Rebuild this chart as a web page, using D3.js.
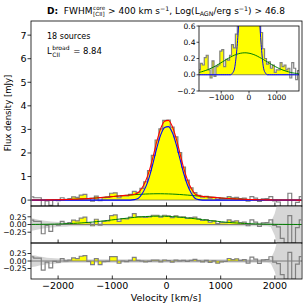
<!DOCTYPE html>
<html><head><meta charset="utf-8">
<script src="https://cdn.jsdelivr.net/npm/d3@7"></script>
<style>body{margin:0;background:#fff}svg{display:block}text{font-family:"DejaVu Sans",sans-serif;fill:#000}</style>
</head><body><div id="chart"></div>
<script>
// ---------------- data ----------------
const velocity = [-2485,-2415,-2345,-2275,-2205,-2135,-2065,-1995,-1925,-1855,
  -1785,-1715,-1645,-1575,-1505,-1435,-1365,-1295,-1225,-1155,
  -1085,-1015,-945,-875,-805,-735,-665,-595,-525,-455,
  -385,-315,-245,-175,-105,-35,35,105,175,245,
  315,385,455,525,595,665,735,805,875,945,
  1015,1085,1155,1225,1295,1365,1435,1505,1575,1645,
  1715,1785,1855,1925,1995,2065,2135,2205,2275,2345,
  2415,2485];
const flux = [0.14,0.10,0.10,-0.30,-0.03,-0.22,0.00,-0.02,0.10,0.03,
  0.06,0.14,0.12,0.21,0.24,0.06,-0.04,0.17,-0.02,0.10,
  0.12,0.29,0.31,0.10,0.19,0.18,0.24,0.37,0.33,0.50,
  0.78,1.25,1.90,2.55,3.02,3.38,3.40,3.10,2.68,2.02,
  1.40,0.85,0.52,0.32,0.20,0.13,0.16,0.08,0.12,0.03,
  0.06,0.06,0.15,0.10,0.12,0.06,0.08,-0.04,0.15,0.08,
  -0.06,0.05,0.06,0.15,-0.03,-0.08,-0.45,-0.60,0.29,-0.60,
  -0.10,0.15];
const coreModel = [0,0,0,0,0,0,0,0,0,0,
  0,0,0,0,0,0,0,0,0,0,
  0,0,0,0,0,0,0,0.02,0.07,0.25,
  0.55,1.00,1.60,2.25,2.78,3.08,3.12,2.88,2.40,1.78,
  1.15,0.65,0.30,0.08,0.02,0,0,0,0,0,
  0,0,0,0,0,0,0,0,0,0,
  0,0,0,0,0,0,0,0,0,0,
  0,0];
const broadModel = [0.003,0.004,0.005,0.007,0.008,0.011,0.013,0.017,0.020,0.025,
  0.030,0.036,0.043,0.051,0.060,0.070,0.080,0.092,0.104,0.118,
  0.132,0.146,0.161,0.175,0.190,0.204,0.217,0.230,0.241,0.250,
  0.258,0.264,0.268,0.270,0.270,0.267,0.263,0.256,0.248,0.238,
  0.226,0.213,0.200,0.186,0.171,0.157,0.142,0.128,0.114,0.101,
  0.089,0.077,0.067,0.057,0.049,0.041,0.034,0.028,0.023,0.019,
  0.016,0.012,0.010,0.008,0.006,0.005,0.004,0.003,0.002,0.002,
  0.001,0.001];
const noise = [0.20,0.18,0.15,0.13,0.11,0.10,0.09,0.08,0.07,0.07,
  0.06,0.06,0.06,0.06,0.06,0.06,0.06,0.06,0.06,0.06,
  0.06,0.06,0.06,0.06,0.06,0.06,0.06,0.06,0.06,0.06,
  0.06,0.06,0.06,0.06,0.06,0.06,0.06,0.06,0.06,0.06,
  0.06,0.06,0.06,0.06,0.06,0.06,0.06,0.06,0.06,0.06,
  0.06,0.06,0.06,0.06,0.06,0.06,0.06,0.06,0.06,0.06,
  0.06,0.06,0.06,0.08,0.35,0.80,1.00,1.00,1.00,1.00,
  1.00,1.00];
const fitRange = [-1800, 1450];
const mainYTicks = [0,1,2,3,4,5,6,7];
const resYTicks = [0.25, 0, -0.25];
const xTicks = [-2000,-1000,0,1000,2000];
const insetXTicks = [-1000,0,1000];
const insetYTicks = [-0.2,0,0.2,0.4,0.6];
const nSources = "18 sources";
const lBroad = "8.84";

// ---------------- derived table ----------------
const rows = velocity.map((v,i)=>({v, f:flux[i], core:coreModel[i], broad:broadModel[i],
  total:coreModel[i]+broadModel[i], r1:flux[i]-coreModel[i], r2:flux[i]-coreModel[i]-broadModel[i],
  s:noise[i], fit: v>=fitRange[0] && v<=fitRange[1]}));

const svg = d3.select('#chart').append('svg').attr('width',305).attr('height',305);
const fmt = v => (v<0?'\u2212':'') + Math.abs(v);
const fmt2 = v => (v<0?'\u2212':'') + Math.abs(v).toFixed(2);
const fmt1 = v => (v<0?'\u2212':'') + Math.abs(v).toFixed(1);

const x = d3.scaleLinear().domain([-2500,2500]).range([31,302]);
const yMain = d3.scaleLinear().domain([-0.25,7.6]).range([206,21]);
const yR1 = d3.scaleLinear().domain([-0.6,0.6]).range([243,206]);
const yR2 = d3.scaleLinear().domain([-0.6,0.6]).range([279,243]);

const GREY='#808080', YEL='#ffff00', BAND='#d6d6d6';
let clipId=0;
function panel(xs, ys){
  const [x0,x1]=xs.range(), [y1,y0]=ys.range();
  const id='clip'+(clipId++);
  svg.append('clipPath').attr('id',id).append('rect').attr('x',x0).attr('y',y0).attr('width',x1-x0).attr('height',y1-y0);
  const g = svg.append('g').attr('clip-path',`url(#${id})`);
  return {g, x0,x1,y0,y1};
}
function frame(p){
  svg.append('rect').attr('x',p.x0).attr('y',p.y0).attr('width',p.x1-p.x0).attr('height',p.y1-p.y0)
    .attr('fill','none').attr('stroke','#000').attr('stroke-width',0.8);
}
const stepLine = (xs,ys,key)=>d3.line().x(d=>xs(d.v)).y(d=>ys(d[key])).curve(d3.curveStep);
const fillArea = (xs,ys,key)=>d3.area().defined(d=>d.fit).x(d=>xs(d.v)).y0(ys(0)).y1(d=>ys(d[key])).curve(d3.curveStep);
const smooth = (xs,ys,key,c)=>d3.line().x(d=>xs(d.v)).y(d=>ys(d[key])).curve(c||d3.curveMonotoneX);

// ---- main panel ----
const pm = panel(x,yMain);
pm.g.append('path').attr('d',fillArea(x,yMain,'f')(rows)).attr('fill',YEL);
pm.g.append('line').attr('x1',pm.x0).attr('x2',pm.x1).attr('y1',yMain(0)).attr('y2',yMain(0)).attr('stroke','#666').attr('stroke-width',0.8);
pm.g.append('path').attr('d',stepLine(x,yMain,'f')(rows)).attr('fill','none').attr('stroke',GREY).attr('stroke-width',1.2);
pm.g.append('path').attr('d',smooth(x,yMain,'broad',d3.curveNatural)(rows)).attr('fill','none').attr('stroke','green').attr('stroke-width',1);
pm.g.append('path').attr('d',smooth(x,yMain,'core')(rows)).attr('fill','none').attr('stroke','blue').attr('stroke-width',1.1);
pm.g.append('path').attr('d',smooth(x,yMain,'total')(rows)).attr('fill','none').attr('stroke','red').attr('stroke-width',1.1);
frame(pm);

// ---- residual panels ----
function resPanel(ys,key,withBroad){
  const p = panel(x,ys);
  p.g.append('path').attr('d',d3.area().x(d=>x(d.v)).y0(d=>ys(-d.s)).y1(d=>ys(d.s))(rows)).attr('fill',BAND);
  p.g.append('path').attr('d',fillArea(x,ys,key)(rows)).attr('fill',YEL);
  p.g.append('line').attr('x1',p.x0).attr('x2',p.x1).attr('y1',ys(0)).attr('y2',ys(0)).attr('stroke','#666').attr('stroke-width',0.8);
  p.g.append('path').attr('d',stepLine(x,ys,key)(rows)).attr('fill','none').attr('stroke',GREY).attr('stroke-width',1.2);
  if(withBroad) p.g.append('path').attr('d',smooth(x,ys,'broad',d3.curveNatural)(rows)).attr('fill','none').attr('stroke','green').attr('stroke-width',1);
  frame(p);
  return p;
}
const p1 = resPanel(yR1,'r1',true);
const p2 = resPanel(yR2,'r2',false);

// ---- ticks ----
const FS=9.5;
function xTicksIn(ys){
  xTicks.forEach(t=>svg.append('line').attr('x1',x(t)).attr('x2',x(t)).attr('y1',ys.range()[0]).attr('y2',ys.range()[0]-3.5).attr('stroke','#000').attr('stroke-width',0.8));
}
xTicksIn(yMain); xTicksIn(yR1); xTicksIn(yR2);
xTicks.forEach(t=>svg.append('text').attr('x',x(t)).attr('y',289).attr('text-anchor','middle').attr('font-size',FS).text(fmt(t)));
function yTicksOut(ys,ticks,f,fs){
  ticks.forEach(t=>{
    svg.append('line').attr('x1',31).attr('x2',27.5).attr('y1',ys(t)).attr('y2',ys(t)).attr('stroke','#000').attr('stroke-width',0.8);
    svg.append('text').attr('x',26.5).attr('y',ys(t)).attr('dy','0.36em').attr('text-anchor','end').attr('font-size',fs).text(f(t));
  });
}
yTicksOut(yMain,mainYTicks,fmt,FS);
yTicksOut(yR1,resYTicks,fmt2,7.6);
yTicksOut(yR2,resYTicks,fmt2,7.6);

svg.append('text').attr('x',166).attr('y',301).attr('text-anchor','middle').attr('font-size',9.5).text('Velocity [km/s]');
svg.append('text').attr('transform','translate(11,113) rotate(-90)').attr('text-anchor','middle').attr('font-size',8.5).text('Flux density [mJy]');

// ---- annotations ----
svg.append('text').attr('x',47).attr('y',39).attr('font-size',8).text(nSources);
svg.append('text').attr('x',47).attr('y',54).attr('font-size',8.5).text('L');
const lx = 47 + 5.2;
svg.append('text').attr('x',lx).attr('y',50).attr('font-size',6).text('broad');
svg.append('text').attr('x',lx).attr('y',57).attr('font-size',6).text('CII');
svg.append('text').attr('x',lx+21).attr('y',54).attr('font-size',8.5).text('= ' + lBroad);

// ---- title ----
(function(){
  const segs = [
    {t:'D:', s:9, b:true, dy:0},
    {t:'  FWHM', s:9, dy:0},
    {stack:['core','[CII]'], s:5.6},
    {t:' > 400 km s', s:9, dy:0},
    {t:'\u22121', s:6.3, dy:-3.3},
    {t:', Log(L', s:9, dy:0},
    {t:'AGN', s:6.3, dy:2},
    {t:'/erg s', s:9, dy:0},
    {t:'\u22121', s:6.3, dy:-3.3},
    {t:') > 46.8', s:9, dy:0}
  ];
  const g = svg.append('g');
  let cx = 0; const base = 14;
  segs.forEach(sg=>{
    if(sg.stack){
      cx += 0.6;
      const a = g.append('text').attr('x',cx).attr('y',base-3.8).attr('font-size',sg.s).text(sg.stack[0]);
      const b = g.append('text').attr('x',cx).attr('y',base+2.2).attr('font-size',sg.s).text(sg.stack[1]);
      cx += Math.max(a.node().getComputedTextLength(), b.node().getComputedTextLength());
    } else {
      const t = g.append('text').attr('x',cx).attr('y',base+sg.dy).attr('font-size',sg.s)
        .attr('font-weight',sg.b?'bold':'normal').style('white-space','pre').attr('xml:space','preserve').text(sg.t);
      cx += t.node().getComputedTextLength();
    }
  });
  g.attr('transform',`translate(${166-cx/2},0)`);
})();

// ---- inset ----
const xi = d3.scaleLinear().domain([-1800,1800]).range([199,299]);
const yi = d3.scaleLinear().domain([-0.2,0.6]).range([91,26]);
svg.append('rect').attr('x',199).attr('y',26).attr('width',100).attr('height',65).attr('fill','#fff');
const pi = panel(xi,yi);
pi.g.append('path').attr('d',fillArea(xi,yi,'f')(rows)).attr('fill',YEL);
pi.g.append('line').attr('x1',pi.x0).attr('x2',pi.x1).attr('y1',yi(0)).attr('y2',yi(0)).attr('stroke','#666').attr('stroke-width',0.8);
pi.g.append('path').attr('d',stepLine(xi,yi,'f')(rows)).attr('fill','none').attr('stroke',GREY).attr('stroke-width',1.2);
pi.g.append('path').attr('d',smooth(xi,yi,'core')(rows)).attr('fill','none').attr('stroke','blue').attr('stroke-width',1);
pi.g.append('path').attr('d',smooth(xi,yi,'broad',d3.curveNatural)(rows)).attr('fill','none').attr('stroke','green').attr('stroke-width',1);
frame(pi);
insetXTicks.forEach(t=>{
  svg.append('line').attr('x1',xi(t)).attr('x2',xi(t)).attr('y1',91).attr('y2',93.5).attr('stroke','#000').attr('stroke-width',0.7);
  svg.append('text').attr('x',xi(t)).attr('y',100).attr('text-anchor','middle').attr('font-size',7.5).text(fmt(t));
});
insetYTicks.forEach(t=>{
  svg.append('line').attr('x1',199).attr('x2',196.5).attr('y1',yi(t)).attr('y2',yi(t)).attr('stroke','#000').attr('stroke-width',0.7);
  svg.append('text').attr('x',195.5).attr('y',yi(t)).attr('dy','0.36em').attr('text-anchor','end').attr('font-size',7.5).text(fmt1(t));
});
</script></body></html>
